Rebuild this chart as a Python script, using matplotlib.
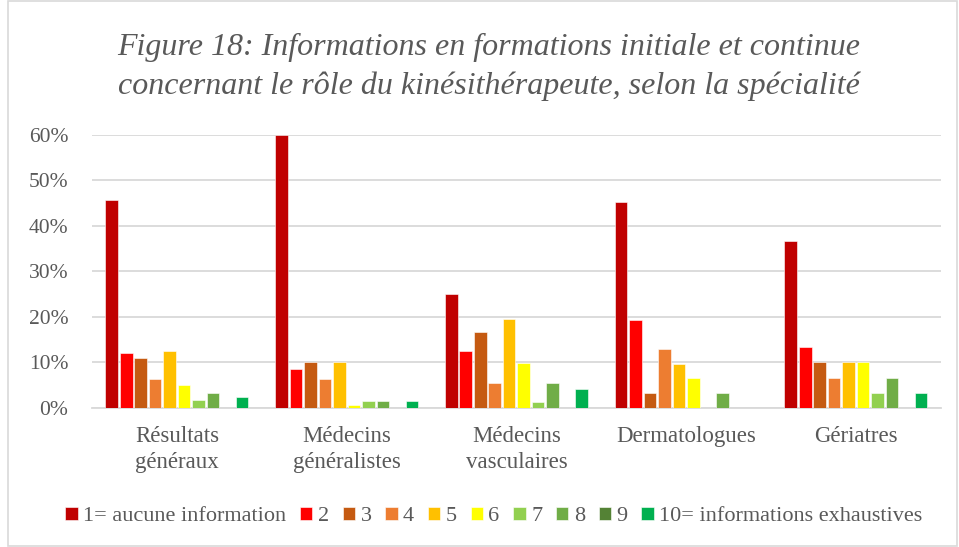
import matplotlib.pyplot as plt
import numpy as np

categories = ["Résultats\ngénéraux", "Médecins\ngénéralistes", "Médecins\nvasculaires",
              "Dermatologues", "Gériatres"]
series_names = ["1= aucune information", "2", "3", "4", "5", "6", "7", "8", "9",
                "10= informations exhaustives"]
colors = ["#C00000", "#FF0000", "#C55A11", "#ED7D31", "#FFC000", "#FFFF00",
          "#92D050", "#70AD47", "#548235", "#00B050"]

# values in % per series (1..10), one entry per category
s1 = [45.7, 59.8, 25.0, 45.1, 36.7]
s2 = [12.1, 8.5, 12.5, 19.4, 13.3]
s3 = [10.9, 10.1, 16.7, 3.2, 10.0]
s4 = [6.4, 6.3, 5.6, 13.0, 6.7]
s5 = [12.5, 10.1, 19.5, 9.7, 10.0]
s6 = [5.0, 0.7, 9.8, 6.5, 10.0]
s7 = [1.8, 1.5, 1.3, 0.0, 3.3]
s8 = [3.2, 1.5, 5.6, 3.2, 6.7]
s9 = [0.0, 0.0, 0.0, 0.0, 0.0]
s10 = [2.5, 1.5, 4.2, 0.0, 3.3]
series = [s1, s2, s3, s4, s5, s6, s7, s8, s9, s10]

grey = "#595959"
plt.rcParams["font.family"] = ["Liberation Serif", "DejaVu Serif"]

fig = plt.figure(figsize=(9.59, 5.47), dpi=100)
ax = fig.add_axes([0.096, 0.254, 0.885, 0.5])

x = np.arange(len(categories))
slot = 0.0853
width = 0.074
for i, vals in enumerate(series):
    offs = (i - 4.5) * slot
    ax.bar(x + offs, vals, width, color=colors[i], label=series_names[i],
           edgecolor="white", linewidth=0.4, zorder=3)

ax.set_xlim(-0.5, len(categories) - 0.5)
ax.set_ylim(0, 60)
ax.set_yticks(np.arange(0, 61, 10))
ax.set_yticklabels([f"{v}%" for v in range(0, 61, 10)])
ax.set_xticks(x)
ax.set_xticklabels(categories, linespacing=1.3)
ax.tick_params(axis="both", length=0, colors=grey)
ax.tick_params(axis="y", pad=17, labelsize=15.5)
ax.tick_params(axis="x", pad=13, labelsize=16.5)
ax.yaxis.grid(True, color="#D9D9D9", linewidth=1.3, zorder=0)
for s in ["top", "right", "left"]:
    ax.spines[s].set_visible(False)
ax.spines["bottom"].set_color("#D9D9D9")
ax.spines["bottom"].set_linewidth(1.3)

fig.text(0.51, 0.914, "Figure 18: Informations en formations initiale et continue",
         ha="center", va="center", fontsize=23, style="italic", color=grey)
fig.text(0.51, 0.843, "concernant le rôle du kinésithérapeute, selon la spécialité",
         ha="center", va="center", fontsize=23, style="italic", color=grey)

leg = fig.legend(loc="center", bbox_to_anchor=(0.515, 0.056), ncol=10, frameon=False,
                 fontsize=16, handlelength=0.55, handleheight=0.55, handletextpad=0.25,
                 columnspacing=0.62, labelcolor=grey)

fig.patches.append(plt.Rectangle((0.008, 0.002), 0.99, 0.996, transform=fig.transFigure,
                                 fill=False, edgecolor="#D9D9D9", linewidth=1.2))

fig.savefig("out.png", dpi=100)
